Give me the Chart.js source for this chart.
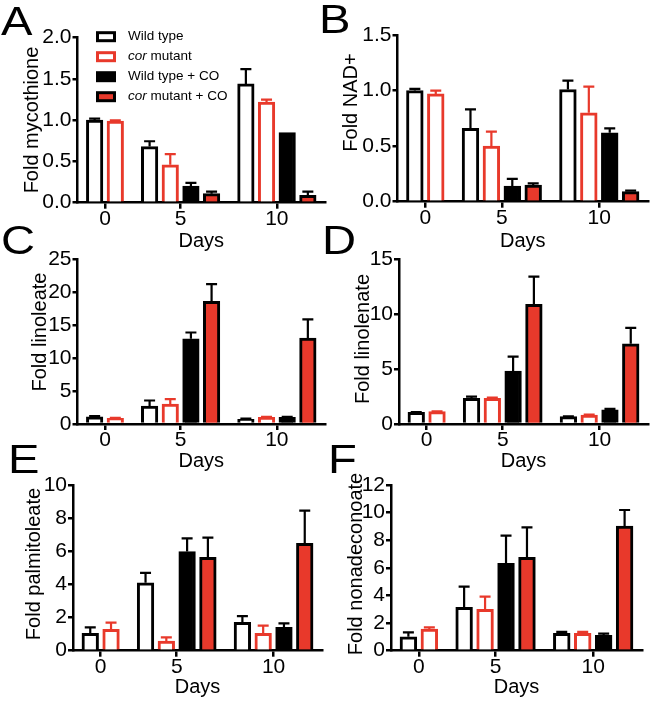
<!DOCTYPE html>
<html><head><meta charset="utf-8">
<script src="https://cdn.jsdelivr.net/npm/chart.js@4"></script>
<style>
html,body{margin:0;padding:0;background:#fff;}
#wrap{position:relative;width:650px;height:703px;overflow:hidden;background:#fff;}
#wrap canvas{position:absolute;}
</style></head><body><div id="wrap"></div>
<script>
// ---------- data ----------
const days = ['0', '5', '10'];
const seriesNames = ['Wild type', 'cor mutant', 'Wild type + CO', 'cor mutant + CO'];

// A: Fold mycothione
const mycoWT = [1.00, 0.68, 1.44];
const mycoWTErr = [0.02, 0.065, 0.18];
const mycoCor = [0.99, 0.46, 1.22];
const mycoCorErr = [0.008, 0.13, 0.03];
const mycoWTCO = [null, 0.20, 0.85];
const mycoWTCOErr = [null, 0.04, 0];
const mycoCorCO = [null, 0.11, 0.09];
const mycoCorCOErr = [null, 0.025, 0.045];

// B: Fold NAD+
const nadWT = [1.00, 0.66, 1.01];
const nadWTErr = [0.015, 0.17, 0.08];
const nadCor = [0.97, 0.50, 0.80];
const nadCorErr = [0.03, 0.13, 0.235];
const nadWTCO = [null, 0.14, 0.62];
const nadWTCOErr = [null, 0.066, 0.04];
const nadCorCO = [null, 0.15, 0.09];
const nadCorCOErr = [null, 0.015, 0.01];

// C: Fold linoleate
const linoWT = [1.1, 2.7, 0.7];
const linoWTErr = [0.1, 0.86, 0.1];
const linoCor = [0.85, 3.0, 1.0];
const linoCorErr = [0.08, 0.76, 0.1];
const linoWTCO = [null, 12.9, 1.0];
const linoWTCOErr = [null, 0.96, 0.1];
const linoCorCO = [null, 18.6, 13.0];
const linoCorCOErr = [null, 2.6, 2.85];

// D: Fold linolenate
const lnnWT = [1.06, 2.34, 0.67];
const lnnWTErr = [0.03, 0.15, 0.03];
const lnnCor = [1.12, 2.34, 0.82];
const lnnCorErr = [0.03, 0.06, 0.03];
const lnnWTCO = [null, 4.83, 1.28];
const lnnWTCOErr = [null, 1.3, 0.09];
const lnnCorCO = [null, 10.9, 7.3];
const lnnCorCOErr = [null, 2.52, 1.46];

// E: Fold palmitoleate
const palWT = [1.05, 4.1, 1.71];
const palWTErr = [0.36, 0.6, 0.38];
const palCor = [1.29, 0.58, 1.05];
const palCorErr = [0.4, 0.22, 0.46];
const palWTCO = [null, 5.98, 1.41];
const palWTCOErr = [null, 0.8, 0.24];
const palCorCO = [null, 5.63, 6.48];
const palCorCOErr = [null, 1.19, 1.97];

// F: Fold nonadeconoate
const nonWT = [1.01, 3.14, 1.26];
const nonWTErr = [0.32, 1.5, 0.1];
const nonCor = [1.57, 2.99, 1.26];
const nonCorErr = [0.12, 0.92, 0.1];
const nonWTCO = [null, 6.33, 1.11];
const nonWTCOErr = [null, 2.0, 0.12];
const nonCorCO = [null, 6.76, 9.03];
const nonCorCOErr = [null, 2.17, 1.16];

// ---------- style ----------
const FAMILY = '"Liberation Sans", Arial, Helvetica, sans-serif';
const RED = '#e8392b';
const EDGE = ['#000000', RED, '#000000', '#000000'];
const FILL = ['#ffffff', '#ffffff', '#000000', RED];
const GROUP_PAD = 0.33;
const BAR_RATIO = 0.8;
Chart.defaults.font.family = FAMILY;
Chart.defaults.color = '#000';

function groupLayout(values) {
  const counts = days.map((_, i) => values.filter(s => s[i] != null).length);
  const centers = [];
  let pos = 0;
  counts.forEach(n => { pos += GROUP_PAD; centers.push(pos + n / 2); pos += n + GROUP_PAD; });
  return { centers, total: pos };
}

const errorBars = {
  id: 'errorBars',
  afterDatasetsDraw(chart) {
    const ctx = chart.ctx, ys = chart.scales.y;
    chart.data.datasets.forEach((ds, di) => {
      const meta = chart.getDatasetMeta(di);
      meta.data.forEach((bar, i) => {
        const v = ds.data[i], e = ds.errors ? ds.errors[i] : null;
        if (v == null || !e) return;
        const x = bar.x, y0 = ys.getPixelForValue(v), y1 = ys.getPixelForValue(v + e);
        ctx.save();
        ctx.strokeStyle = ds.borderColor;
        ctx.lineWidth = 2.2;
        ctx.beginPath();
        ctx.moveTo(x, y0); ctx.lineTo(x, y1);
        ctx.moveTo(x - 5.5, y1); ctx.lineTo(x + 5.5, y1);
        ctx.stroke();
        ctx.restore();
      });
    });
  }
};

const decor = {
  id: 'decor',
  afterDraw(chart, args, o) {
    const ctx = chart.ctx;
    ctx.save();
    ctx.fillStyle = '#000';
    ctx.font = '41px ' + FAMILY;
    ctx.textAlign = 'left';
    ctx.textBaseline = 'alphabetic';
    ctx.translate(o.lX, o.lY);
    ctx.scale(1.15, 1);
    ctx.fillText(o.letter, 0, 0);
    ctx.restore();
    ctx.save();
    ctx.fillStyle = '#000';
    ctx.translate(o.tX, o.tY);
    ctx.rotate(-Math.PI / 2);
    ctx.textAlign = 'center';
    ctx.textBaseline = 'middle';
    ctx.font = '20px ' + FAMILY;
    ctx.fillText(o.yTitle, 0, 0);
    ctx.restore();
    if (o.legend) {
      const L = o.legend;
      ctx.save();
      seriesNames.forEach((name, k) => {
        const y = L.y0 + k * L.dy;
        ctx.fillStyle = EDGE[k];
        ctx.fillRect(L.x, y - L.h / 2, L.w, L.h);
        ctx.fillStyle = FILL[k];
        ctx.fillRect(L.x + 3, y - L.h / 2 + 3, L.w - 6, L.h - 6);
        let x = L.tx;
        ctx.fillStyle = '#000';
        ctx.textBaseline = 'middle';
        ctx.textAlign = 'left';
        const parts = name.startsWith('cor ') ? [['cor', true], [name.slice(3), false]] : [[name, false]];
        parts.forEach(([t, it]) => {
          ctx.font = (it ? 'italic ' : '') + L.size + 'px ' + FAMILY;
          ctx.fillText(t, x, y);
          x += ctx.measureText(t).width;
        });
      });
      ctx.restore();
    }
  }
};

const panels = [
  { letter: 'A', cx: 0, cy: 0, cw: 330, ch: 253, L: 77.5, R: 325, T: 37.7, B: 202.7, daysY: 241,
    yMax: 2, step: 0.5, dec: 1, yTitle: 'Fold mycothione', tX: 32, tY: 120, lX: 1, lY: 35,
    values: [mycoWT, mycoCor, mycoWTCO, mycoCorCO], errors: [mycoWTErr, mycoCorErr, mycoWTCOErr, mycoCorCOErr],
    legend: { x: 96, w: 20, h: 11, y0: 36.7, dy: 20, tx: 128, size: 13.5 } },
  { letter: 'B', cx: 320, cy: 0, cw: 330, ch: 253, L: 397.5, R: 648, T: 35, B: 201.7, daysY: 241.5,
    yMax: 1.5, step: 0.5, dec: 1, yTitle: 'Fold NAD+', tX: 351, tY: 102.5, lX: 319, lY: 33,
    values: [nadWT, nadCor, nadWTCO, nadCorCO], errors: [nadWTErr, nadCorErr, nadWTCOErr, nadCorCOErr] },
  { letter: 'C', cx: 0, cy: 222, cw: 330, ch: 251, L: 77.5, R: 325, T: 259, B: 424, daysY: 461,
    yMax: 25, step: 5, dec: 0, yTitle: 'Fold linoleate', tX: 40, tY: 332, lX: 1, lY: 254,
    values: [linoWT, linoCor, linoWTCO, linoCorCO], errors: [linoWTErr, linoCorErr, linoWTCOErr, linoCorCOErr] },
  { letter: 'D', cx: 320, cy: 222, cw: 330, ch: 251, L: 399, R: 648, T: 259.3, B: 424, daysY: 461,
    yMax: 15, step: 5, dec: 0, yTitle: 'Fold linolenate', tX: 363, tY: 339, lX: 322, lY: 254,
    values: [lnnWT, lnnCor, lnnWTCO, lnnCorCO], errors: [lnnWTErr, lnnCorErr, lnnWTCOErr, lnnCorCOErr] },
  { letter: 'E', cx: 0, cy: 445, cw: 330, ch: 258, L: 73, R: 322, T: 485, B: 650.7, daysY: 687.5,
    yMax: 10, step: 2, dec: 0, yTitle: 'Fold palmitoleate', tX: 34, tY: 564, lX: 8, lY: 473,
    values: [palWT, palCor, palWTCO, palCorCO], errors: [palWTErr, palCorErr, palWTCOErr, palCorCOErr] },
  { letter: 'F', cx: 320, cy: 445, cw: 330, ch: 258, L: 391, R: 642, T: 485, B: 650.7, daysY: 687.5,
    yMax: 12, step: 2, dec: 0, yTitle: 'Fold nonadeconoate', tX: 356, tY: 564, lX: 328, lY: 473,
    values: [nonWT, nonCor, nonWTCO, nonCorCO], errors: [nonWTErr, nonCorErr, nonWTCOErr, nonCorCOErr] }
];

const wrap = document.getElementById('wrap');
panels.forEach(p => {
  const c = document.createElement('canvas');
  c.width = p.cw; c.height = p.ch;
  c.style.left = p.cx + 'px'; c.style.top = p.cy + 'px';
  c.style.width = p.cw + 'px'; c.style.height = p.ch + 'px';
  wrap.appendChild(c);
  const lay = groupLayout(p.values);
  const pitch = (p.R - p.L) / lay.total;
  const xh = (p.cy + p.ch) - p.B;
  const titleFont = { size: 20, family: FAMILY, lineHeight: 1.2 };
  const titlePadBottom = Math.max(0, (p.cy + p.ch) - p.daysY - 20 * 1.2 / 2);
  const tickFont = { size: 21, family: FAMILY, lineHeight: 1.2 };
  const axisGrid = { display: true, drawOnChartArea: false, drawTicks: true, offset: false, color: '#000', tickColor: '#000', lineWidth: 2.5, tickWidth: 2.5 };
  new Chart(c, {
    type: 'bar',
    data: {
      labels: lay.centers,
      datasets: p.values.map((v, k) => ({
        label: seriesNames[k], data: v, errors: p.errors[k],
        backgroundColor: FILL[k], borderColor: EDGE[k], borderWidth: 3,
        barThickness: pitch, maxBarThickness: pitch * BAR_RATIO, skipNull: true
      }))
    },
    options: {
      responsive: false, animation: false, devicePixelRatio: 1,
      layout: { padding: { left: 0, top: p.T - p.cy, right: (p.cx + p.cw) - p.R, bottom: 0 } },
      plugins: {
        legend: { display: false }, tooltip: { enabled: false },
        decor: { letter: p.letter, lX: p.lX - p.cx, lY: p.lY - p.cy, yTitle: p.yTitle, tX: p.tX - p.cx, tY: p.tY - p.cy,
          legend: p.legend ? Object.assign({}, p.legend, { x: p.legend.x - p.cx, tx: p.legend.tx - p.cx, y0: p.legend.y0 - p.cy }) : null }
      },
      scales: {
        x: {
          type: 'linear', min: 0, max: lay.total, offset: false,
          afterBuildTicks: s => { s.ticks = lay.centers.map(v => ({ value: v })); },
          ticks: { callback: (v, i) => days[i], font: tickFont, color: '#000', padding: -2, autoSkip: false, maxRotation: 0 },
          grid: Object.assign({ tickLength: 6 }, axisGrid),
          border: { display: true, color: '#000', width: 2.5 },
          title: { display: true, text: 'Days', font: titleFont, color: '#000', padding: { top: 0, bottom: titlePadBottom } },
          afterFit: s => { s.height = xh; }
        },
        y: {
          min: 0, max: p.yMax,
          ticks: { stepSize: p.step, autoSkip: false, callback: v => Number(v).toFixed(p.dec), font: tickFont, color: '#000', padding: 1 },
          grid: Object.assign({ tickLength: 5 }, axisGrid),
          border: { display: true, color: '#000', width: 2.5 },
          afterFit: s => { s.width = p.L - p.cx; }
        }
      }
    },
    plugins: [errorBars, decor]
  });
});
</script></body></html>
